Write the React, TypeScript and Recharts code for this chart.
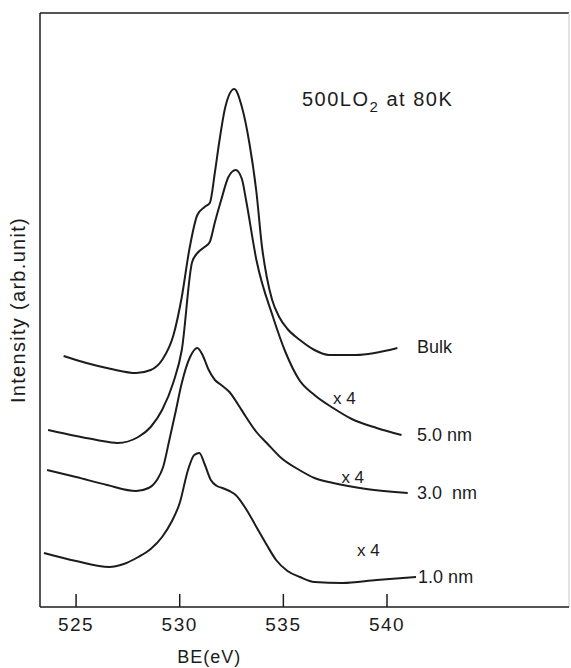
import React from 'react'
import { LineChart, Line, XAxis, YAxis, ReferenceLine, ReferenceDot } from 'recharts'

// O 1s spectra, binding energy (eV) vs. intensity (arb. units, offset per trace)
const bulkBE = [524.4, 525.5, 526.7, 527.9, 528.6, 529.15, 529.7, 530.1, 530.46, 530.85, 531.2, 531.45, 531.7, 531.9, 532.2, 532.63, 533.0, 533.36, 533.7, 533.97, 534.2, 534.46, 534.8, 535.2, 535.8, 536.5, 537.2, 538.5, 540.5]
const bulkI = [251, 244, 238, 234, 237, 247, 272, 310, 357, 392, 400, 404, 435, 464, 500, 518, 500, 464, 415, 360, 330, 307, 290, 278, 267, 257, 252, 252, 259]

const nm5BE = [523.65, 525.0, 526.0, 527.0, 528.0, 528.6, 529.15, 529.7, 530.1, 530.6, 530.9, 531.2, 531.45, 531.7, 532.0, 532.35, 532.7, 533.0, 533.2, 533.7, 534.5, 535.1, 535.77, 536.5, 537.4, 538.3, 539.5, 540.7]
const nm5I = [177, 171, 167, 164, 170, 180, 197, 225, 257, 345, 355, 360, 365, 385, 407, 430, 437, 428, 407, 347, 290, 255, 227, 212, 199, 188, 179, 172]

const nm3BE = [523.6, 525.0, 526.5, 527.9, 528.5, 528.9, 529.2, 529.5, 529.8, 530.1, 530.5, 530.85, 531.1, 531.4, 531.7, 532.0, 532.4, 532.8, 533.2, 533.7, 534.2, 534.9, 535.77, 536.5, 537.4, 539.0, 541.0]
const nm3I = [137, 130, 122, 116, 119, 127, 140, 167, 195, 224, 250, 259, 252, 237, 227, 222, 215, 203, 190, 175, 164, 149, 137, 129, 124, 118, 114]

const nm1BE = [523.45, 525.0, 526.6, 527.3, 528.0, 528.6, 529.15, 529.6, 530.0, 530.4, 530.7, 530.95, 531.2, 531.5, 531.8, 532.05, 532.4, 532.7, 533.2, 533.7, 534.2, 534.65, 535.2, 535.8, 536.5, 537.85, 539.5, 541.4]
const nm1I = [54, 46, 40, 43, 50, 58, 70, 85, 104, 137, 152, 154, 143, 127, 121, 119, 116, 112, 98, 80, 62, 47, 36, 30, 25, 24, 27, 30]

const xTicks = [525, 530, 535, 540]
const xDomain = [523.26, 548.78]
const yDomain = [0, 594]

const toPoints = (be: number[], inten: number[]) => be.map((x, i) => ({ be: x, i: inten[i] }))

const series = [
  { name: 'Bulk', data: toPoints(bulkBE, bulkI) },
  { name: '5.0 nm', data: toPoints(nm5BE, nm5I) },
  { name: '3.0 nm', data: toPoints(nm3BE, nm3I) },
  { name: '1.0 nm', data: toPoints(nm1BE, nm1I) },
]

// annotations: [text, be, intensity]
const notes: [string, number, number][] = [
  ['Bulk', 541.45, 260],
  ['5.0 nm', 541.45, 172],
  ['3.0  nm', 541.45, 114],
  ['1.0 nm', 541.5, 30],
]
const scaleNotes: [string, number, number][] = [
  ['x 4', 537.4, 209],
  ['x 4', 537.8, 130],
  ['x 4', 538.55, 57],
]

const ink = '#1c1c1c'
const sans = '"Liberation Sans", Arial, sans-serif'

const Tick = (props: any) => {
  const { x, y, payload } = props
  return (
    <g>
      <line x1={x} x2={x} y1={y} y2={y - 13} stroke={ink} strokeWidth={1.5} />
      <text x={x} y={y + 24} textAnchor="middle" fontFamily={sans} fontSize={19} letterSpacing={1.5} fill={ink}>
        {payload.value}
      </text>
    </g>
  )
}

const noteLabel = (text: string, size: number, anchor: string = 'start') => ({
  content: (p: any) => (
    <text
      x={p.viewBox.x}
      y={p.viewBox.y}
      textAnchor={anchor}
      dominantBaseline="central"
      fontFamily={sans}
      fontSize={size}
      letterSpacing={anchor === 'middle' ? 1 : 0}
      fill={ink}
      style={{ whiteSpace: 'pre' }}
    >
      {text}
    </text>
  ),
})

const titleLabel = {
  content: (p: any) => (
    <text x={p.viewBox.x} y={p.viewBox.y} fontFamily={sans} fontSize={20} letterSpacing={1.5} fill={ink}>
      500LO
      <tspan fontSize={15} dy={6}>2</tspan>
      <tspan dy={-6}> at 80K</tspan>
    </text>
  ),
}

export default function App() {
  return (
    <div style={{ position: 'absolute', left: 0, top: 0, background: '#fff' }}>
      <LineChart width={571} height={668} margin={{ top: 13, right: 2, left: 0, bottom: 31 }}>
        <XAxis
          type="number"
          dataKey="be"
          domain={xDomain}
          allowDataOverflow
          ticks={xTicks}
          tick={<Tick />}
          tickLine={false}
          tickSize={0}
          tickMargin={0}
          axisLine={{ stroke: ink, strokeWidth: 1.5 }}
          height={30}
        />
        <YAxis
          type="number"
          domain={yDomain}
          allowDataOverflow
          width={40}
          tick={false}
          tickLine={false}
          axisLine={{ stroke: ink, strokeWidth: 1.5 }}
          label={{
            value: 'Intensity (arb.unit)',
            angle: -90,
            position: 'center',
            fontFamily: sans,
            fontSize: 20,
            letterSpacing: 1.3,
            fill: ink,
            dx: -2,
          }}
        />
        <ReferenceLine y={594} stroke={ink} strokeWidth={1.5} />
        <ReferenceLine x={548.78} stroke="#c8c8c8" strokeWidth={1} />
        {series.map((s) => (
          <Line
            key={s.name}
            data={s.data}
            dataKey="i"
            type="monotone"
            stroke={ink}
            strokeWidth={2}
            dot={false}
            isAnimationActive={false}
          />
        ))}
        {notes.map(([t, x, y]) => (
          <ReferenceDot key={t} x={x} y={y} r={0} stroke="none" fill="none" ifOverflow="visible" label={noteLabel(t, 18)} />
        ))}
        {scaleNotes.map(([t, x, y], k) => (
          <ReferenceDot key={'s' + k} x={x} y={y} r={0} stroke="none" fill="none" ifOverflow="visible" label={noteLabel(t, 17)} />
        ))}
        <ReferenceDot x={535.9} y={501} r={0} stroke="none" fill="none" ifOverflow="visible" label={titleLabel} />
        <ReferenceDot x={531.42} y={-50} r={0} stroke="none" fill="none" ifOverflow="visible" label={noteLabel('BE(eV)', 18, 'middle')} />
      </LineChart>
    </div>
  )
}
